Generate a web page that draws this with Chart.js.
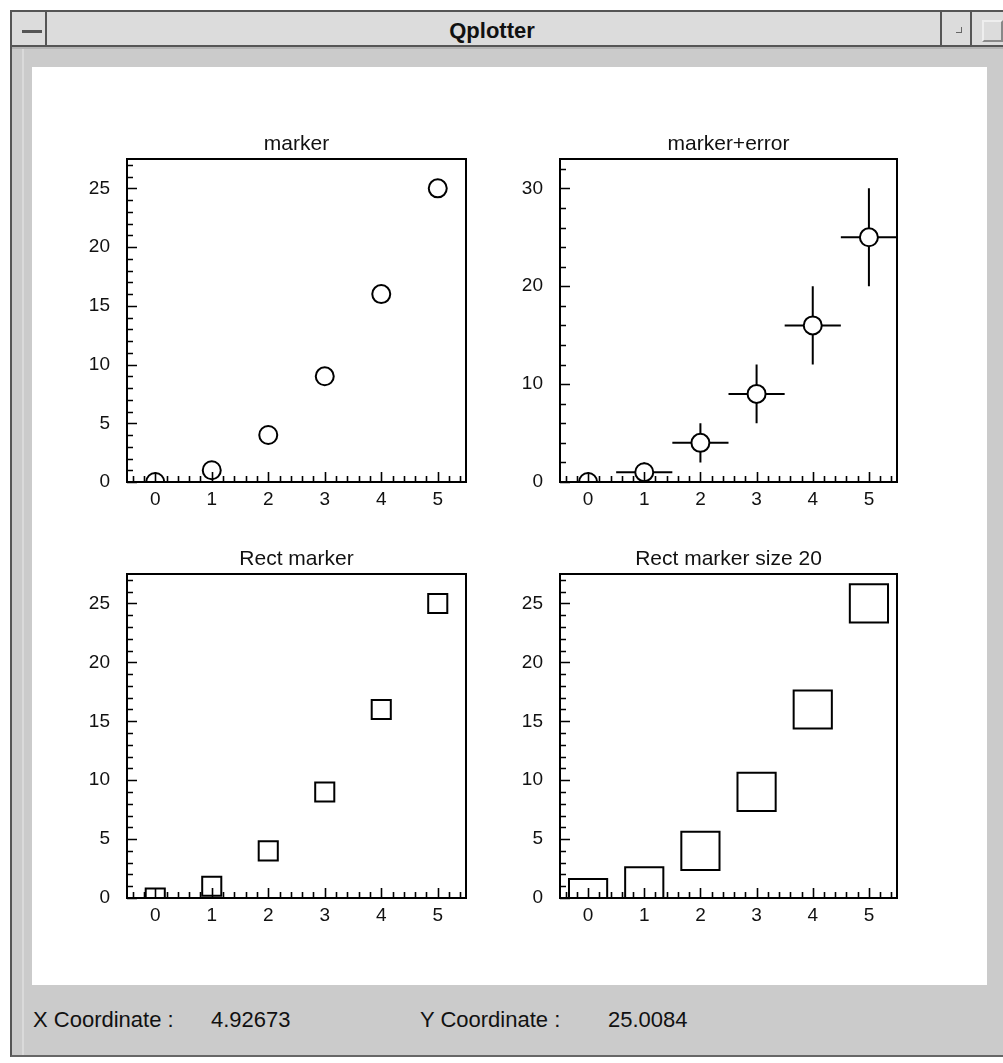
<!DOCTYPE html>
<html>
<head>
<meta charset="utf-8">
<title>Qplotter</title>
<script src="https://cdn.jsdelivr.net/npm/chart.js@4.4.0/dist/chart.umd.min.js"></script>
<style>
  body { margin: 0; width: 1003px; height: 1063px; background: #fff; position: relative; overflow: hidden;
         font-family: "Liberation Sans", Arial, sans-serif; }
  .frame { position: absolute; left: 10px; top: 46px; width: 993px; height: 1011px; background: #cbcbcb;
           border-left: 2px solid #555; border-bottom: 2px solid #666; box-sizing: border-box; }
  .frame::before { content: ""; position: absolute; left: 0; top: 0; right: 0; height: 3px; background: #b4b4b4; }
  .frame::after { content: ""; position: absolute; left: 10px; top: 3px; bottom: 0; width: 2px; background: #dadada; }
  .titlebar { position: absolute; left: 10px; top: 10px; width: 993px; height: 37px; background: #dcdcdc;
              border: 2px solid #555; border-right: none; box-sizing: border-box; }
  .btn { position: absolute; top: 0; height: 33px; border-right: 2px solid #555; box-sizing: border-box; }
  .wtitle { position: absolute; left: 0; width: 960px; top: 6px; text-align: center; font-weight: bold;
            font-size: 22px; color: #111; }
  .panel { position: absolute; left: 32px; top: 67px; width: 955px; height: 918px; background: #fff; }
  .status { position: absolute; top: 1007px; font-size: 22px; color: #111; line-height: 26px; }
  canvas { position: absolute; }
</style>
</head>
<body>
<div class="frame"></div>
<div class="titlebar">
  <div class="btn" style="left:0;width:35px;"><div style="position:absolute;left:10px;top:18px;width:20px;height:3px;background:#555;"></div></div>
  <div class="btn" style="left:928px;width:32px;border-left:2px solid #555;"><div style="position:absolute;left:14px;top:15px;width:5px;height:5px;border:1px solid #666;border-left:none;border-top:none;"></div></div>
  <div style="position:absolute;left:970px;top:8px;width:17px;height:18px;border:2px solid #888;border-left-color:#eee;border-top-color:#eee;"></div>
  <div class="wtitle">Qplotter</div>
</div>
<div class="panel"></div>
<canvas id="c1" width="419" height="393" style="left:67px;top:129px;"></canvas>
<canvas id="c2" width="417" height="393" style="left:500px;top:129px;"></canvas>
<canvas id="c3" width="419" height="394" style="left:67px;top:544px;"></canvas>
<canvas id="c4" width="417" height="394" style="left:500px;top:544px;"></canvas>
<div class="status" style="left:33px;">X Coordinate :</div>
<div class="status" style="left:211px;">4.92673</div>
<div class="status" style="left:420px;">Y Coordinate :</div>
<div class="status" style="left:608px;">25.0084</div>
<script>
const xValues = [0, 1, 2, 3, 4, 5];
const yValues = [0, 1, 4, 9, 16, 25];
const xErrors = [0.5, 0.5, 0.5, 0.5, 0.5, 0.5];
const yErrors = [0, 1, 2, 3, 4, 5];
const xTickValues = [0, 1, 2, 3, 4, 5];
const yTicksSquare = [0, 5, 10, 15, 20, 25];
const yTicksError = [0, 10, 20, 30];

const fontFamily = '"Liberation Sans", Arial, sans-serif';

// frame, inward ticks and error bars, all placed through the chart scales
const qbox = {
  id: 'qbox',
  beforeDatasetsDraw(chart, args, opts) {
    if (!opts.errors) return;
    const { ctx, chartArea: a, scales: { x, y } } = chart;
    ctx.save();
    ctx.beginPath();
    ctx.rect(a.left, a.top, a.right - a.left, a.bottom - a.top);
    ctx.clip();
    ctx.strokeStyle = '#000';
    ctx.lineWidth = 2;
    ctx.beginPath();
    xValues.forEach((v, i) => {
      const px = x.getPixelForValue(v);
      const py = y.getPixelForValue(yValues[i]);
      ctx.moveTo(x.getPixelForValue(v - xErrors[i]), py);
      ctx.lineTo(x.getPixelForValue(v + xErrors[i]), py);
      ctx.moveTo(px, y.getPixelForValue(yValues[i] - yErrors[i]));
      ctx.lineTo(px, y.getPixelForValue(yValues[i] + yErrors[i]));
    });
    ctx.stroke();
    ctx.restore();
  },
  afterDatasetsDraw(chart, args, opts) {
    const { ctx, chartArea: a, scales: { x, y } } = chart;
    ctx.save();
    ctx.strokeStyle = '#000';
    ctx.lineWidth = 1.6;
    ctx.beginPath();
    for (let k = Math.ceil(x.min / opts.xMinor); k * opts.xMinor <= x.max + 1e-9; k++) {
      const v = k * opts.xMinor;
      const major = Math.abs(v / opts.xMajor - Math.round(v / opts.xMajor)) < 1e-6;
      const px = Math.round(x.getPixelForValue(v)) + 0.5;
      ctx.moveTo(px, a.bottom);
      ctx.lineTo(px, a.bottom - (major ? 10 : 6));
    }
    for (let k = Math.ceil(y.min / opts.yMinor); k * opts.yMinor <= y.max + 1e-9; k++) {
      const v = k * opts.yMinor;
      const major = Math.abs(v / opts.yMajor - Math.round(v / opts.yMajor)) < 1e-6;
      const py = Math.round(y.getPixelForValue(v)) + 0.5;
      ctx.moveTo(a.left, py);
      ctx.lineTo(a.left + (major ? 10 : 6), py);
    }
    ctx.stroke();
    ctx.lineWidth = 2;
    ctx.strokeRect(a.left, a.top, a.right - a.left, a.bottom - a.top);
    ctx.restore();
  }
};

function makePlot(id, title, style, radius, yMax, yTicks, tickOpts) {
  return new Chart(document.getElementById(id), {
    type: 'scatter',
    data: {
      datasets: [{
        data: xValues.map((v, i) => ({ x: v, y: yValues[i] })),
        pointStyle: style,
        pointRadius: radius,
        pointHoverRadius: radius,
        pointBorderWidth: 2,
        borderColor: '#000',
        backgroundColor: '#fff',
        showLine: false
      }]
    },
    options: {
      responsive: false,
      animation: false,
      events: [],
      layout: { autoPadding: false, padding: { left: 0, top: 0, right: 20, bottom: 0 } },
      plugins: {
        legend: { display: false },
        tooltip: { enabled: false },
        title: {
          display: true,
          text: title,
          fullSize: false,
          color: '#111',
          font: { family: fontFamily, size: 21, weight: 'normal', lineHeight: '22px' },
          padding: { top: 4, bottom: 4 }
        },
        qbox: tickOpts
      },
      scales: {
        x: {
          type: 'linear',
          min: -0.5,
          max: 5.5,
          grid: { display: false, drawTicks: false },
          border: { display: false },
          ticks: { padding: 6, color: '#111', font: { family: fontFamily, size: 19 } },
          afterBuildTicks: s => { s.ticks = xTickValues.map(v => ({ value: v })); },
          afterFit: s => { s.height = 40; }
        },
        y: {
          type: 'linear',
          min: 0,
          max: yMax,
          grid: { display: false, drawTicks: false },
          border: { display: false },
          ticks: { padding: 17, color: '#111', font: { family: fontFamily, size: 19 } },
          afterBuildTicks: s => { s.ticks = yTicks.map(v => ({ value: v })); },
          afterFit: s => { s.width = 60; }
        }
      }
    },
    plugins: [qbox]
  });
}

makePlot('c1', 'marker', 'circle', 9, 27.5, yTicksSquare,
  { xMinor: 0.2, xMajor: 1, yMinor: 1, yMajor: 5 });
makePlot('c2', 'marker+error', 'circle', 9, 33, yTicksError,
  { xMinor: 0.2, xMajor: 1, yMinor: 2, yMajor: 10, errors: true });
makePlot('c3', 'Rect marker', 'rect', 13.5, 27.5, yTicksSquare,
  { xMinor: 0.2, xMajor: 1, yMinor: 1, yMajor: 5 });
makePlot('c4', 'Rect marker size 20', 'rect', 27, 27.5, yTicksSquare,
  { xMinor: 0.2, xMajor: 1, yMinor: 1, yMajor: 5 });
</script>
</body>
</html>
